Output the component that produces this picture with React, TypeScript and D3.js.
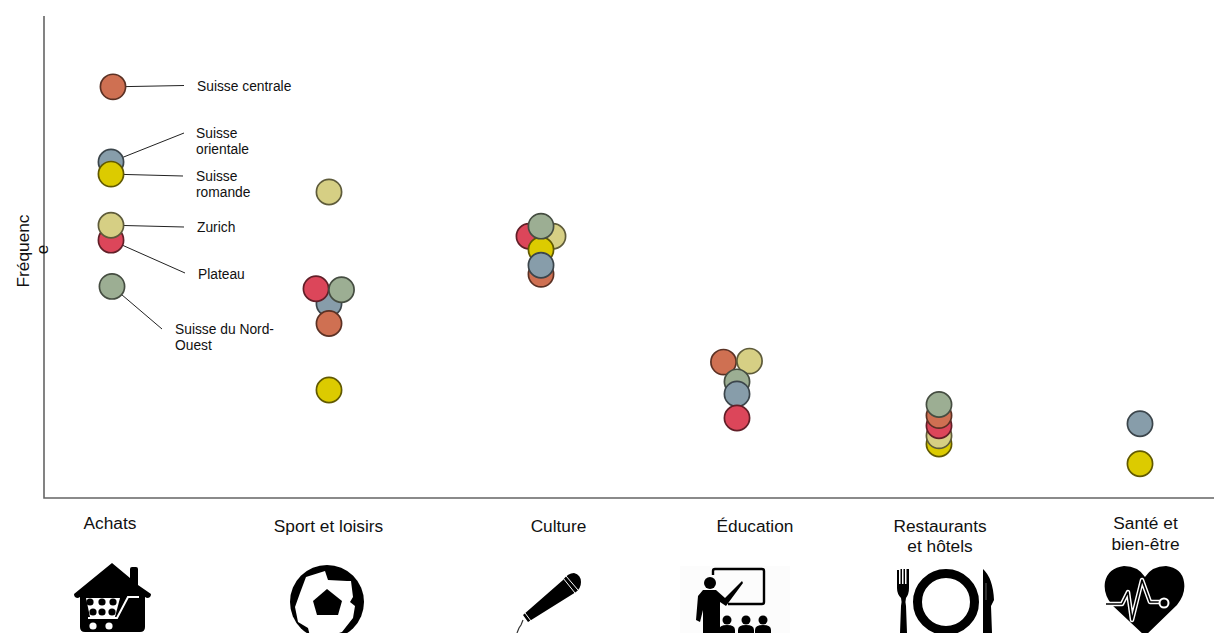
import React from "react";
import * as d3 from "d3";

const WIDTH = 1214;
const HEIGHT = 633;

const regions = ["Suisse centrale", "Suisse orientale", "Suisse romande", "Zurich", "Plateau", "Suisse du Nord-Ouest"];
const regionFills = ["#cf7052", "#879daa", "#dccb00", "#d6cf84", "#dc465a", "#9cae93"];
const categories = ["Achats", "Sport et loisirs", "Culture", "Éducation", "Restaurants et hôtels", "Santé et bien-être"];

// Each category lists its regions in paint order, with a frequency and a sideways dodge.
const achatsRegions = [1, 2, 4, 3, 5, 0];
const achatsValues = [69.7, 67.2, 53.5, 56.6, 43.9, 85.3];
const achatsDodge = [0, 0, 0, 0, 1, 2];
const sportRegions = [1, 4, 5, 0, 3, 2];
const sportValues = [40.3, 43.4, 43.2, 36.2, 63.5, 22.4];
const sportDodge = [0, -13, 12.5, 0, 0, 0];
const cultureRegions = [0, 4, 3, 2, 5, 1];
const cultureValues = [46.4, 54.3, 54.3, 51.5, 56.4, 48.3];
const cultureDodge = [0, -12, 12, 0, 0, 0];
const educationRegions = [0, 3, 5, 1, 4];
const educationValues = [28.2, 28.4, 24.1, 21.6, 16.6];
const educationDodge = [-13.5, 12.5, 0, 0, 0];
const restaurantRegions = [2, 3, 4, 0, 5];
const restaurantValues = [11.2, 12.9, 15, 17.1, 19.4];
const restaurantDodge = [0, 0, 0, 0, 0];
const santeRegions = [1, 2];
const santeValues = [15.4, 7.1];
const santeDodge = [0, 0];

const groups = [
  { regions: achatsRegions, values: achatsValues, dodge: achatsDodge },
  { regions: sportRegions, values: sportValues, dodge: sportDodge },
  { regions: cultureRegions, values: cultureValues, dodge: cultureDodge },
  { regions: educationRegions, values: educationValues, dodge: educationDodge },
  { regions: restaurantRegions, values: restaurantValues, dodge: restaurantDodge },
  { regions: santeRegions, values: santeValues, dodge: santeDodge },
];

const categoryCentres = [111, 329, 541, 737, 939, 1140];
const x = d3.scaleOrdinal<string, number>().domain(categories).range(categoryCentres);
const y = d3.scaleLinear().domain([0, 100]).range([498, 16]);
const FONT = "'Liberation Sans', Arial, sans-serif";

// Callouts naming each region beside the first category.
const calloutLabels = [
  { region: 0, lines: ["Suisse centrale"], tx: 197, ty: 91, lx: 184, ly: 85.5 },
  { region: 1, lines: ["Suisse", "orientale"], tx: 196, ty: 138, lx: 184, ly: 133 },
  { region: 2, lines: ["Suisse", "romande"], tx: 196, ty: 181, lx: 183, ly: 176 },
  { region: 3, lines: ["Zurich"], tx: 197, ty: 232, lx: 184, ly: 227 },
  { region: 4, lines: ["Plateau"], tx: 198, ty: 279, lx: 185, ly: 273 },
  { region: 5, lines: ["Suisse du Nord-", "Ouest"], tx: 175, ty: 334, lx: 162, ly: 329 },
];

function Icons() {
  return (
    <g fill="#000">
      {/* house with shopping trolley */}
      <g>
        <path d="M112 563 L130 578 L130 569 Q130 567 132 567 L136 567 Q138 567 138 569 L138 585 L151 594 Q151 598 147 598 L145 597 L145 627 Q145 632 140 632 L85 632 Q80 632 80 627 L80 597 L78 598 Q74 598 74 594 Z" />
        <path d="M86 598 H120 L115 617 H90 Z" fill="#fff" />
        <path d="M88 618 H117 L128 597 H139" fill="none" stroke="#fff" strokeWidth="2" />
        {[90, 102, 113].map((cx) => <circle key={cx} cx={cx} cy={602} r={3.6} />)}
        {[93, 102, 112].map((cx) => <circle key={cx} cx={cx} cy={612} r={3.6} />)}
        <circle cx={93} cy={626} r={3.6} fill="#fff" />
        <circle cx={109} cy={626} r={3.6} fill="#fff" />
      </g>
      {/* football */}
      <g>
        <circle cx={327} cy={602} r={37} />
        <path d="M306 577 L325 571 L328 580 L347 581 L351 581 L353 597 L350 602 L355 606 L353 618 L342 632 L330 636 L310 636 L308 628 L298 622 L295 607 L300 593 Z" fill="#fff" />
        <path d="M327 589 L342 601 L338 615 L317 615 L313 601 Z" />
      </g>
      {/* microphone */}
      <g>
        <path d="M523 615 L563 580 Q568 573 574 573 Q581 575 581 582 Q581 588 576 592 L528 622 Z" />
        <path d="M563 578 L575 593 M566 576 L578 590 M525 613 L531 621" stroke="#fff" strokeWidth="1" fill="none" />
        <path d="M523 620 L521 625 L519 628 L517 633" stroke="#333" strokeWidth="1.2" fill="none" />
      </g>
      {/* teacher at a board */}
      <g>
        <rect x={680} y={566} width={110} height={67} fill="#fcfcfc" />
        <path d="M713 575 V571 Q713 569 715 569 H762 Q764 569 764 571 V602 Q764 604 762 604 H728" fill="none" stroke="#000" strokeWidth="2.4" />
        <circle cx={710} cy={583} r={6} />
        <path d="M703 590 H716 L725 598 L742 581 L743 583 L726 606 L720 602 L720 633 H703 L703 610 L700 622 L696 620 L698 596 Z" />
        {[727, 746, 763].map((cx) => (
          <g key={cx}>
            <circle cx={cx} cy={620} r={4.5} />
            <path d={`M${cx - 8} 634 V630 Q${cx - 8} 625 ${cx} 625 Q${cx + 8} 625 ${cx + 8} 630 V634 Z`} />
          </g>
        ))}
      </g>
      {/* plate with fork and knife */}
      <g>
        <path d="M897 570 H899 V584 H900.5 V569 H902 V584 H903.5 V569 H905 V584 H906.5 V569 H909 V588 Q909 594 906 598 Q905 601 906 606 L907 633 H900 L901 606 Q902 601 901 598 Q897 594 897 588 Z" />
        <circle cx={946} cy={602} r={28.5} fill="none" stroke="#000" strokeWidth="9" />
        <path d="M983 569 Q993 578 994 600 L991 606 L992 633 H983 Z" />
        <path d="M986 583 V600" stroke="#777" strokeWidth="0.8" fill="none" />
      </g>
      {/* heart with pulse */}
      <g>
        <path d="M1145 636 L1112 605 Q1103 594 1105 582 Q1108 568 1124 566 Q1138 566 1145 577 Q1152 566 1166 566 Q1182 568 1184 582 Q1186 594 1177 605 Z" />
        <g fill="none" strokeLinejoin="round">
          <path d="M1106 604 H1122 L1128 592 L1132 620 L1142 580 L1150 602 H1160" stroke="#fff" strokeWidth="4.5" />
          <path d="M1106 604 H1122 L1128 592 L1132 620 L1142 580 L1150 602 H1160" stroke="#000" strokeWidth="1.6" />
          <circle cx={1164} cy={603} r={4.5} fill="#000" stroke="#fff" strokeWidth="2" />
        </g>
      </g>
    </g>
  );
}

export default function App() {
  return (
    <svg
      width={WIDTH}
      height={HEIGHT}
      viewBox={`0 0 ${WIDTH} ${HEIGHT}`}
      style={{ position: "absolute", left: 0, top: 0, fontFamily: FONT }}
    >
      <rect width={WIDTH} height={HEIGHT} fill="#fff" />
      <path d={`M44 ${y(100)} V${y(0)} H${WIDTH}`} fill="none" stroke="#646464" strokeWidth={1.6} />

      <g transform="translate(28.5 287.5) rotate(-90)" fontSize={17.3} fill="#111">
        <text x={0} y={0}>Fréquenc</text>
        <text x={38} y={19.5} textAnchor="middle">e</text>
      </g>

      {calloutLabels.map((c) => {
        const idx = achatsRegions.indexOf(c.region);
        const cx = x(categories[0]) + achatsDodge[idx];
        const cy = y(achatsValues[idx]);
        const angle = Math.atan2(c.ly - cy, c.lx - cx);
        return (
          <g key={c.region}>
            <line x1={cx + 13 * Math.cos(angle)} y1={cy + 13 * Math.sin(angle)} x2={c.lx} y2={c.ly} stroke="#222" strokeWidth={1} />
            <text fontSize={13.8} fill="#111">
              {c.lines.map((t, i) => <tspan key={t} x={c.tx} y={c.ty + i * 16}>{t}</tspan>)}
            </text>
          </g>
        );
      })}

      {groups.map((g, gi) => (
        <g key={categories[gi]}>
          {g.regions.map((r, i) => (
            <circle
              key={regions[r]}
              cx={x(categories[gi]) + g.dodge[i]}
              cy={y(g.values[i])}
              r={12.6}
              fill={regionFills[r]}
              stroke={d3.color(regionFills[r])!.darker(2.3).formatHex()}
              strokeWidth={1.7}
            />
          ))}
        </g>
      ))}

      <g fontSize={17.3} textAnchor="middle" fill="#111">
        <text x={110} y={529}>Achats</text>
        <text x={328.5} y={532}>Sport et loisirs</text>
        <text x={558.5} y={532}>Culture</text>
        <text x={755} y={532}>Éducation</text>
        <text><tspan x={940} y={532}>Restaurants</tspan><tspan x={940} y={552}>et hôtels</tspan></text>
        <text><tspan x={1145.5} y={529}>Santé et</tspan><tspan x={1145.5} y={550}>bien-être</tspan></text>
      </g>

      <Icons />
    </svg>
  );
}
